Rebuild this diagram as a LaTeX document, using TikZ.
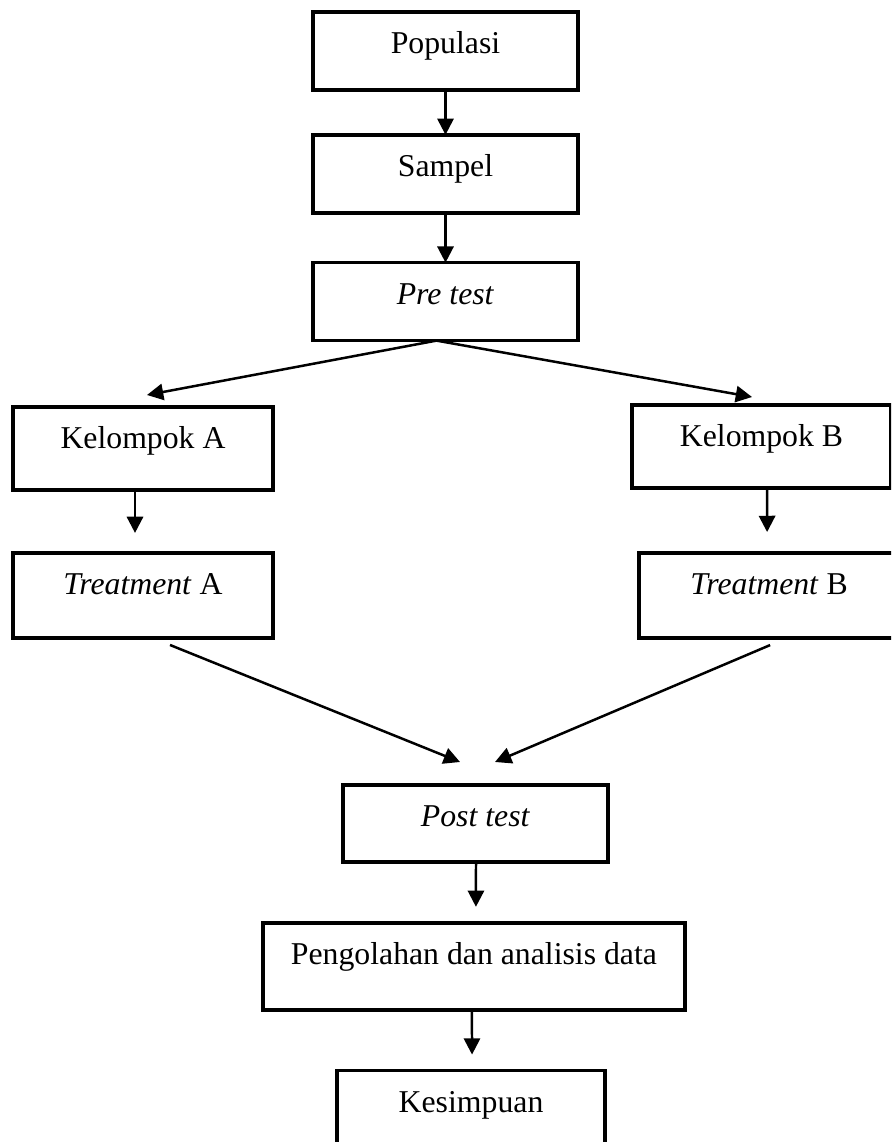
\documentclass[tikz,border=0pt]{standalone}
\usepackage{fontspec}
\setmainfont{Liberation Serif}
\usetikzlibrary{arrows.meta,positioning,calc}

\begin{document}
\begin{tikzpicture}[
  x=0.381pt, y=-0.381pt,
  font=\fontsize{12.1}{14}\selectfont,
  line width=0.95pt,
  box/.style={draw,line width=1.4pt,anchor=north,inner sep=0pt,outer sep=0pt,
              minimum width=101pt,text height=15.8pt,text depth=13.9pt},
  grp/.style={minimum width=99pt,text depth=15.8pt},
  trt/.style={minimum width=99pt,text depth=16.6pt},
  >={Triangle[length=6.2pt,width=6.2pt]},
]
  \useasboundingbox (0,0) rectangle (891,1142);
  \clip (0,0) rectangle (891,1142);

  \node[box] (pop) at (445.5,12) {Populasi};
  \node[box, below=17.1pt of pop] (samp) {Sampel};
  \node[box, below=19pt of samp] (pre) {\textit{Pre test}};

  \node[box,grp] (ka) at (143,407) {Kelompok A};
  \node[box,trt, below=24pt of ka] (ta) {\textit{Treatment} A};
  \node[box,grp,minimum width=98.7pt] (kb) at (761.5,405) {Kelompok B};
  \node[box,trt, below=24.8pt of kb, xshift=2.9pt] (tb) {\textit{Treatment} B};

  \node[box,text depth=13.5pt] (post) at (475.5,785) {\textit{Post test}};
  \node[box,minimum width=160.8pt,text depth=17.3pt,
        below=23.2pt of post, xshift=-0.6pt] (olah) {Pengolahan dan analisis data};
  \node[box,minimum width=102.1pt,text depth=14.7pt,
        below=23.2pt of olah, xshift=-1.1pt] (simp) {Kesimpuan};

  \coordinate (fork) at ($(pre.south)+(-9,0)$);

  \draw[->] (pop) -- (samp);
  \draw[->] (samp) -- (pre);
  \draw[->] (fork) -- ($(ka.north)+(4,-12)$);
  \draw[->] (fork) -- ($(kb.north)+(-9.5,-8)$);
  \draw[->] ($(ka.south)+(-8,0)$) -- ($(ta.north)+(-8,-20)$);
  \draw[->] ($(kb.south)+(5.5,0)$) -- ($(tb.north)+(-2,-21)$);
  \draw[->] ($(ta.south)+(27,7)$) -- ($(post.north)+(-15.5,-23)$);
  \draw[->] ($(tb.south)+(1,7)$) -- ($(post.north)+(19.5,-23)$);
  \draw[->] ($(post.south)+(0.5,0)$) -- ($(olah.north)+(2,-16)$);
  \draw[->] ($(olah.south)+(-2,0)$) -- ($(simp.north)+(1,-16)$);
\end{tikzpicture}
\end{document}
